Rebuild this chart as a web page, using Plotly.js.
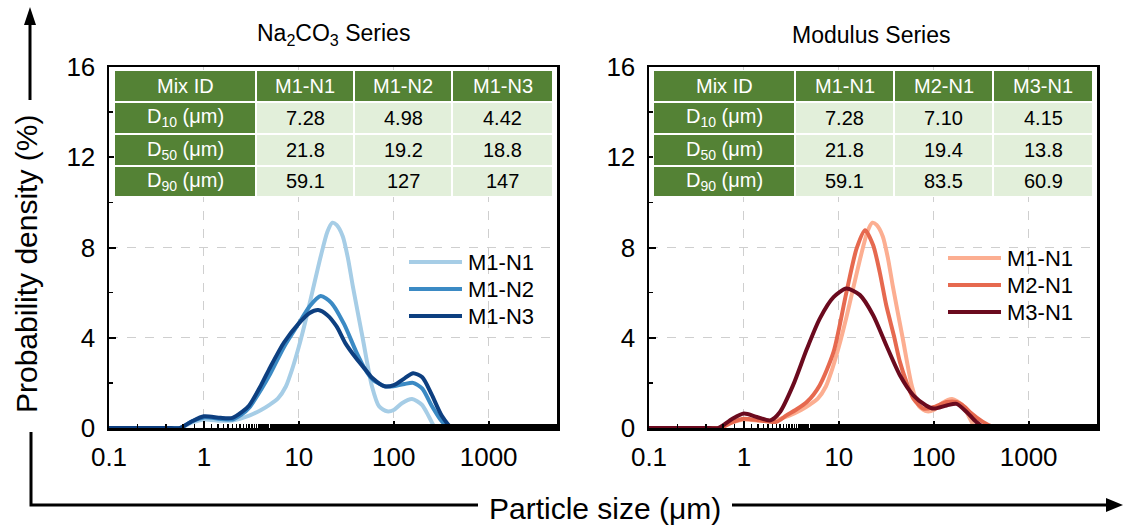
<!DOCTYPE html>
<html>
<head>
<meta charset="utf-8">
<script src="https://cdn.plot.ly/plotly-3.0.1.min.js"></script>
<style>html,body{margin:0;padding:0;background:#fff;}#chart{width:1124px;height:525px;}</style>
</head>
<body>
<div id="chart"></div>
<script>
// ---------------- DATA ----------------
// Particle size (µm) and probability density (%)
const sizeM1N1 = [0.1, 0.45, 0.56, 0.75, 1, 1.5, 2, 3, 4, 5, 6, 7.3, 8.5, 10, 12, 14, 17, 20, 22.6, 25, 29, 33, 37, 47, 59, 70, 85, 100, 122, 156, 198, 235, 276, 330, 3300];
const densM1N1 = [0, 0, 0, 0.25, 0.38, 0.32, 0.33, 0.55, 0.8, 1.05, 1.3, 1.84, 2.6, 3.6, 4.9, 6.1, 7.6, 8.7, 9.1, 9.0, 8.5, 7.5, 6.3, 4.0, 1.84, 0.96, 0.74, 0.8, 1.1, 1.28, 1.03, 0.5, 0, 0, 0];

const sizeM1N2 = [0.1, 0.45, 0.56, 0.75, 1, 1.5, 2, 2.5, 3, 4, 5, 7, 10, 13, 17, 22, 30, 40, 50, 60, 80, 100, 130, 160, 200, 250, 320, 385, 450, 3300];
const densM1N2 = [0, 0, 0, 0.3, 0.47, 0.4, 0.38, 0.6, 0.9, 1.7, 2.4, 3.6, 4.64, 5.4, 5.85, 5.55, 4.6, 3.4, 2.6, 2.15, 1.85, 1.85, 1.95, 2.0, 1.75, 1.0, 0.3, 0, 0, 0];

const sizeM1N3 = [0.1, 0.45, 0.56, 0.75, 1, 1.5, 2, 2.5, 3, 4, 5, 7, 10, 13, 16, 20, 25, 31, 40, 50, 60, 80, 100, 130, 160, 200, 250, 320, 413, 480, 3300];
const densM1N3 = [0, 0, 0, 0.3, 0.52, 0.45, 0.45, 0.7, 1.0, 1.9, 2.7, 3.8, 4.64, 5.1, 5.23, 5.0, 4.5, 3.75, 3.1, 2.6, 2.2, 1.85, 1.9, 2.2, 2.43, 2.25, 1.5, 0.55, 0, 0, 0];

const sizeM2N1 = [0.1, 0.45, 0.56, 0.75, 1, 1.5, 2.2, 2.8, 3.5, 4.6, 6.3, 8.8, 12, 15.4, 18.9, 23, 27, 31.6, 38, 44, 52, 61, 78, 100, 137, 174, 210, 240, 330, 420, 500, 3300];
const densM2N1 = [0, 0, 0, 0.25, 0.41, 0.33, 0.27, 0.56, 0.8, 1.15, 1.9, 3.37, 6.0, 7.96, 8.77, 8.1, 6.9, 5.44, 4.1, 2.93, 2.0, 1.3, 0.86, 0.93, 1.15, 1.15, 0.95, 0.71, 0.27, 0.05, 0, 0];

const sizeM3N1 = [0.1, 0.43, 0.54, 0.75, 1, 1.37, 1.9, 2.4, 3.3, 4.6, 6.3, 8.8, 12, 16.6, 23, 31.6, 44, 61, 83, 100, 137, 174, 222, 280, 350, 420, 3300];
const densM3N1 = [0, 0, 0, 0.4, 0.64, 0.49, 0.34, 0.71, 1.9, 3.5, 4.85, 5.8, 6.18, 5.9, 5.0, 3.67, 2.34, 1.45, 1.0, 0.86, 1.0, 1.07, 0.71, 0.27, 0, 0, 0];

const xTickVals = [0.1, 1, 10, 100, 1000];
const xTickText = ['0.1', '1', '10', '100', '1000'];
const yTickVals = [0, 4, 8, 12, 16];

const titleLeft = 'Na<sub>2</sub>CO<sub>3</sub> Series';
const titleRight = 'Modulus Series';

const tableHeaderLeft = ['Mix ID', 'M1-N1', 'M1-N2', 'M1-N3'];
const tableHeaderRight = ['Mix ID', 'M1-N1', 'M2-N1', 'M3-N1'];
const tableRowLabels = ['D<sub>10</sub> (μm)', 'D<sub>50</sub> (μm)', 'D<sub>90</sub> (μm)'];
const tableValuesLeft = [['7.28', '4.98', '4.42'], ['21.8', '19.2', '18.8'], ['59.1', '127', '147']];
const tableValuesRight = [['7.28', '7.10', '4.15'], ['21.8', '19.4', '13.8'], ['59.1', '83.5', '60.9']];

// ---------------- STYLE ----------------
const W = 1124, H = 525;
const FONT = 'Arial, "Liberation Sans", sans-serif';
const px = v => v / W;
const py = v => 1 - v / H;
const DARK_GREEN = '#548235', LIGHT_GREEN = '#e2efda';

const series = [
  {x: sizeM1N1, y: densM1N1, name: 'M1-N1', color: '#a6cde6', ax: 1},
  {x: sizeM1N2, y: densM1N2, name: 'M1-N2', color: '#3b8ac4', ax: 1},
  {x: sizeM1N3, y: densM1N3, name: 'M1-N3', color: '#0d3f80', ax: 1},
  {x: sizeM1N1, y: densM1N1, name: 'M1-N1', color: '#fcae91', ax: 2},
  {x: sizeM2N1, y: densM2N1, name: 'M2-N1', color: '#e6694f', ax: 2},
  {x: sizeM3N1, y: densM3N1, name: 'M3-N1', color: '#6b0a1e', ax: 2}
];
const traces = series.map(t => ({
  x: t.x, y: t.y, name: t.name, type: 'scatter', mode: 'lines',
  line: {color: t.color, width: 4, shape: 'spline', smoothing: 0.7},
  xaxis: t.ax === 1 ? 'x' : 'x2', yaxis: t.ax === 1 ? 'y' : 'y2',
  showlegend: false, hoverinfo: 'skip'
}));

function xAxis(domain) {
  return {
    domain: domain, type: 'log', range: [-1, 3.72], fixedrange: true,
    tickmode: 'array', tickvals: xTickVals, ticktext: xTickText,
    ticks: 'inside', ticklen: 7, tickwidth: 2, tickcolor: '#000',
    minor: {ticks: 'inside', ticklen: 4, tickwidth: 1.5, tickcolor: '#000', showgrid: false},
    showline: true, linewidth: 2.5, linecolor: '#000', mirror: true,
    showgrid: true, gridcolor: '#cfcfcf', gridwidth: 1, griddash: 'dash',
    zeroline: false, tickfont: {family: FONT, size: 26, color: '#000'},
    ticklabelstandoff: 4
  };
}
function yAxis(anchor) {
  return {
    domain: [py(428), py(67)], range: [0, 16], anchor: anchor, fixedrange: true,
    tickmode: 'array', tickvals: yTickVals,
    ticks: 'inside', ticklen: 7, tickwidth: 2, tickcolor: '#000',
    minor: {tickmode: 'array', tickvals: [2, 6, 10, 14], ticks: 'inside', ticklen: 4, tickwidth: 1.5, tickcolor: '#000', showgrid: false},
    showline: true, linewidth: 2.5, linecolor: '#000', mirror: true,
    showgrid: true, gridcolor: '#cfcfcf', gridwidth: 1, griddash: 'dash',
    zeroline: false, tickfont: {family: FONT, size: 26, color: '#000'},
    ticklabelstandoff: 6
  };
}

const shapes = [];
const annotations = [];

function addTable(header, values, colEdges) {
  const rowEdges = [70, 102, 134, 166, 197];
  shapes.push({type: 'rect', xref: 'paper', yref: 'paper', x0: px(colEdges[0]), x1: px(colEdges[4]),
    y0: py(rowEdges[4]), y1: py(rowEdges[0]), fillcolor: '#ffffff', line: {width: 0}, layer: 'above'});
  for (let r = 0; r < 4; r++) {
    for (let c = 0; c < 4; c++) {
      const dark = (r === 0 || c === 0);
      shapes.push({type: 'rect', xref: 'paper', yref: 'paper',
        x0: px(colEdges[c] + 1), x1: px(colEdges[c + 1] - 1),
        y0: py(rowEdges[r + 1] - 1), y1: py(rowEdges[r] + 1),
        fillcolor: dark ? DARK_GREEN : LIGHT_GREEN, line: {width: 0}, layer: 'above'});
      const txt = r === 0 ? header[c] : (c === 0 ? tableRowLabels[r - 1] : values[r - 1][c - 1]);
      annotations.push({xref: 'paper', yref: 'paper', x: px((colEdges[c] + colEdges[c + 1]) / 2),
        y: py((rowEdges[r] + rowEdges[r + 1]) / 2), text: txt, showarrow: false,
        xanchor: 'center', yanchor: 'middle',
        font: {family: FONT, size: 20, color: dark ? '#ffffff' : '#000000'}});
    }
  }
}
addTable(tableHeaderLeft, tableValuesLeft, [114, 256, 354, 452, 553]);
addTable(tableHeaderRight, tableValuesRight, [653, 795, 894, 993, 1093]);

// legends (line sample + label), built from the series definitions
function addLegend(ax, x0, yTop) {
  series.filter(s => s.ax === ax).forEach((s, i) => {
    const yc = yTop + i * 27;
    shapes.push({type: 'line', xref: 'paper', yref: 'paper', x0: px(x0), x1: px(x0 + 53),
      y0: py(yc), y1: py(yc), line: {color: s.color, width: 4}});
    annotations.push({xref: 'paper', yref: 'paper', x: px(x0 + 57), y: py(yc), text: s.name, showarrow: false,
      xanchor: 'left', yanchor: 'middle', font: {family: FONT, size: 22, color: '#000'}});
  });
}
addLegend(1, 409, 262);
addLegend(2, 948, 258);

annotations.push({xref: 'paper', yref: 'paper', x: px(333), y: py(35), text: titleLeft, showarrow: false,
  xanchor: 'center', yanchor: 'middle', font: {family: FONT, size: 23, color: '#000'}});
annotations.push({xref: 'paper', yref: 'paper', x: px(872), y: py(35), text: titleRight, showarrow: false,
  xanchor: 'center', yanchor: 'middle', font: {family: FONT, size: 23, color: '#000'}});
annotations.push({xref: 'paper', yref: 'paper', x: px(26), y: py(264), text: 'Probability density (%)', showarrow: false,
  textangle: -90, xanchor: 'center', yanchor: 'middle', font: {family: FONT, size: 30, color: '#000'}});
annotations.push({xref: 'paper', yref: 'paper', x: px(605), y: py(508), text: 'Particle size (μm)', showarrow: false,
  xanchor: 'center', yanchor: 'middle', font: {family: FONT, size: 30, color: '#000'}});

// arrows
shapes.push({type: 'line', xref: 'paper', yref: 'paper', x0: px(30), x1: px(30), y0: py(100), y1: py(22), line: {color: '#000', width: 3}});
shapes.push({type: 'path', xref: 'paper', yref: 'paper',
  path: `M ${px(24)} ${py(25)} L ${px(36)} ${py(25)} L ${px(30)} ${py(7)} Z`, fillcolor: '#000', line: {width: 0}});
shapes.push({type: 'path', xref: 'paper', yref: 'paper',
  path: `M ${px(31)} ${py(432)} L ${px(31)} ${py(505)} L ${px(478)} ${py(505)}`, line: {color: '#000', width: 3}});
shapes.push({type: 'line', xref: 'paper', yref: 'paper', x0: px(732), x1: px(1110), y0: py(505), y1: py(505), line: {color: '#000', width: 3}});
shapes.push({type: 'path', xref: 'paper', yref: 'paper',
  path: `M ${px(1106)} ${py(498)} L ${px(1106)} ${py(512)} L ${px(1123)} ${py(505)} Z`, fillcolor: '#000', line: {width: 0}});

const layout = {
  width: W, height: H, margin: {l: 0, r: 0, t: 0, b: 0},
  paper_bgcolor: '#fff', plot_bgcolor: '#fff',
  font: {family: FONT, color: '#000'},
  showlegend: false,
  xaxis: Object.assign(xAxis([px(109), px(557)]), {anchor: 'y'}),
  yaxis: yAxis('x'),
  xaxis2: Object.assign(xAxis([px(649), px(1097)]), {anchor: 'y2'}),
  yaxis2: yAxis('x2'),
  shapes: shapes,
  annotations: annotations
};

Plotly.newPlot('chart', traces, layout, {displayModeBar: false, staticPlot: true});
</script>
</body>
</html>
